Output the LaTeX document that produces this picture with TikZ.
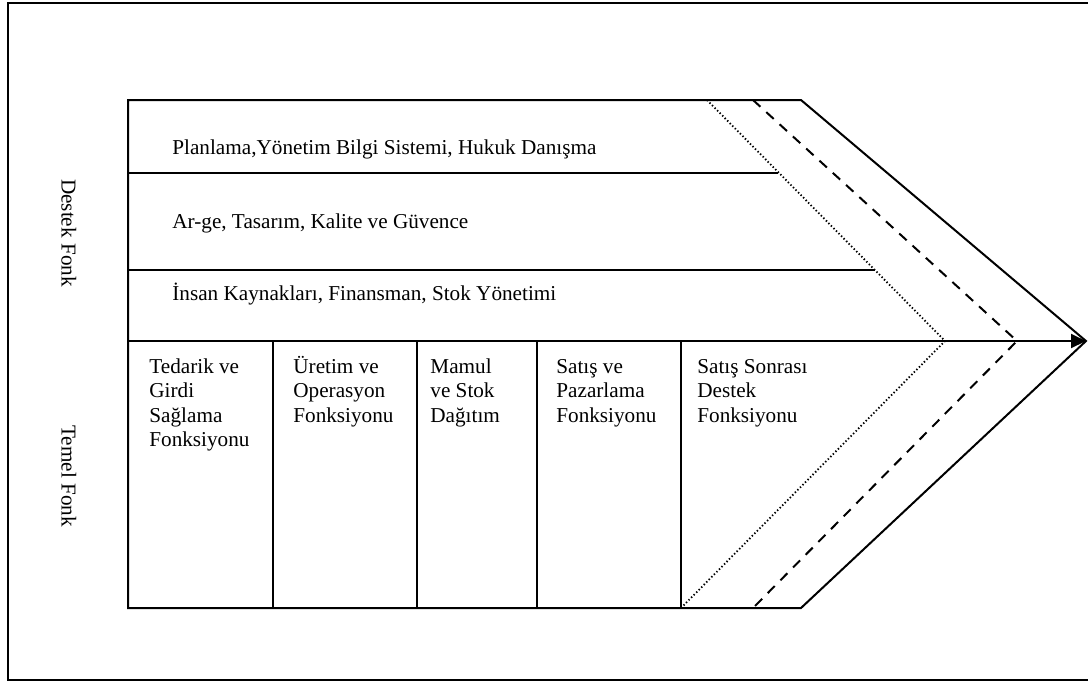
\documentclass[tikz,border=0pt]{standalone}
\usepackage{fontspec}
\setmainfont{Liberation Serif}
\usetikzlibrary{arrows.meta}
\begin{document}
\begin{tikzpicture}[x=0.5pt,y=-0.5pt,
  solidline/.style={line width=1pt},
  dotline/.style={line width=0.9pt,dash pattern=on 0.7pt off 1.1pt},
  dashline/.style={line width=1pt,dash pattern=on 5pt off 4pt},
  lbl/.style={inner sep=0pt,font=\fontsize{10.6}{12.25}\selectfont},
  celltext/.style={lbl,align=left,anchor=base west},
  sidetext/.style={lbl,rotate=-90,anchor=center}]
\useasboundingbox (0,0) rectangle (1088,682);
% outer frame
\draw[line width=0.9pt] (1100,3) -- (8,3) -- (8,680) -- (1100,680);

% corner points of the value chain shape
\coordinate (tl) at (128,100);
\coordinate (tr) at (801,100);
\coordinate (tip) at (1086,341);
\coordinate (br) at (801,608);
\coordinate (bl) at (128,608);
\coordinate (axl) at (128,341);

\draw[solidline,line join=miter] (tr) -- (tl) -- (bl) -- (br) -- (tip) -- cycle;

% dotted and dashed margins
\coordinate (dotT) at (707,100);
\coordinate (dotM) at (945,341);
\coordinate (dotB) at (681,608);
\coordinate (dshT) at (753,100);
\coordinate (dshM) at (1017,341);
\coordinate (dshB) at (753,608);
\draw[dotline] (dotT) -- (dotM) -- (dotB);
\draw[dashline] (dshT) -- (dshM) -- (dshB);

% support rows
\coordinate (r1l) at (128,173);
\coordinate (r1r) at (778,173);
\coordinate (r2l) at (128,270);
\coordinate (r2r) at (875,270);
\draw[solidline] (r1l) -- (r1r);
\draw[solidline] (r2l) -- (r2r);

% main axis
\draw[solidline,-{Triangle[length=7.5pt,width=7pt]}] (axl) -- (tip);

% primary activity columns
\foreach \x/\n in {273/a,417/b,537/c,681/d}{
  \coordinate (c\n t) at (\x,341);
  \coordinate (c\n b) at (\x,608);
  \draw[solidline] (c\n t) -- (c\n b);
}

% support labels
\node[lbl,anchor=base west] (s1) at (172,154) {Planlama,Yönetim Bilgi Sistemi, Hukuk Danışma};
\node[lbl,anchor=base west] (s2) at (172,228) {Ar-ge, Tasarım, Kalite ve Güvence};
\node[lbl,anchor=base west] (s3) at (172,300) {İnsan Kaynakları, Finansman, Stok Yönetimi};

% primary labels (base anchor sits on the last line)
\node[celltext] (p1) at (149,446.5) {Tedarik ve\\Girdi\\Sağlama\\Fonksiyonu};
\node[celltext] (p2) at (293,422) {Üretim ve\\Operasyon\\Fonksiyonu};
\node[celltext] (p3) at (430,422) {Mamul\\ve Stok\\Dağıtım};
\node[celltext] (p4) at (556,422) {Satış ve\\Pazarlama\\Fonksiyonu};
\node[celltext] (p5) at (697,422) {Satış Sonrası\\Destek\\Fonksiyonu};

% side labels
\node[sidetext] (dest) at (69,233) {Destek Fonk};
\node[sidetext] (temel) at (69,476) {Temel Fonk};
\end{tikzpicture}
\end{document}
